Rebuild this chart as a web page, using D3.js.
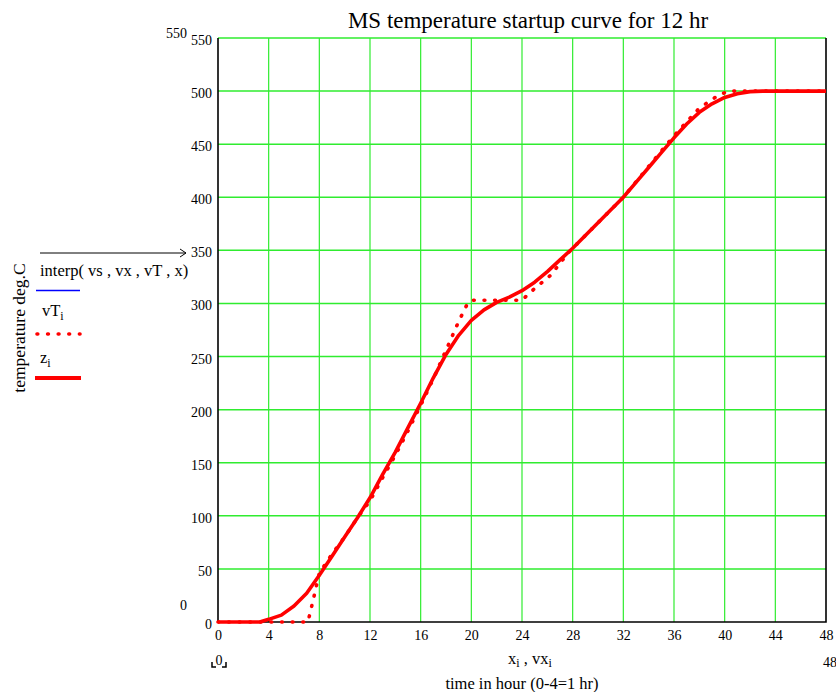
<!DOCTYPE html>
<html>
<head>
<meta charset="utf-8">
<script src="https://cdn.jsdelivr.net/npm/d3@7"></script>
<style>
  html, body { margin: 0; padding: 0; background: #fff; }
  svg { display: block; font-family: "Liberation Serif", "Times New Roman", serif; }
</style>
</head>
<body>
<svg id="chart" width="836" height="692"></svg>
<script>
// Time axis (x, vx) and temperature series
const xTicks = [0, 4, 8, 12, 16, 20, 24, 28, 32, 36, 40, 44, 48];
const yTicks = [0, 50, 100, 150, 200, 250, 300, 350, 400, 450, 500, 550];

// z_i : smoothed startup temperature profile
const zX = [0, 1, 2, 3, 3.3, 4, 5, 6, 7, 8, 9, 10, 11, 12, 13, 14, 15, 16, 17, 18, 19, 20,
            21, 22, 23, 24, 25, 26, 27, 28, 29, 30, 31, 32, 33, 34, 35, 36, 37, 38, 39, 40,
            41, 42, 43, 44, 45, 46, 47, 48];
const zT = [0, 0, 0, 0, 0, 2.5, 6.5, 15, 27, 44, 62, 80, 98, 117, 139, 160, 183, 206, 230, 252, 270, 284,
            294, 301, 306, 312, 320, 330, 341, 352, 364, 376, 388, 400, 414, 428, 442, 456, 469, 480, 488, 494,
            497.5, 499.5, 500, 500, 500, 500, 500, 500];

// vT_i : target temperature set points
const vX = [0, 7.1, 7.5, 8, 9, 10, 11, 12, 13, 14, 15, 16, 17, 18, 19, 19.7, 20, 24, 24.6, 25.4, 26.3,
            27.6, 28, 30, 32, 34, 36, 37, 38, 39.5, 40.3, 48];
const vT = [0, 0, 20, 46, 64, 80, 98, 114, 136, 157, 180, 204, 229, 256, 283, 300, 303, 303, 310, 318, 327,
            347, 352, 376, 400, 429, 458, 471, 484, 496, 500, 500];

const svg = d3.select("#chart");
const x = d3.scaleLinear().domain([0, 48]).range([218, 826]);
const y = d3.scaleLinear().domain([0, 550]).range([622, 38]);

const GRID = "#2fec2f";
const DOTS = "0.8,9.8";

// grid
svg.append("g").selectAll("line").data(xTicks.filter(d => d > 0 && d < 48)).join("line")
  .attr("x1", d => x(d)).attr("x2", d => x(d)).attr("y1", y(0)).attr("y2", y(550))
  .attr("stroke", GRID).attr("stroke-width", 1.2);
svg.append("g").selectAll("line").data(yTicks.filter(d => d > 0)).join("line")
  .attr("x1", x(0)).attr("x2", x(48)).attr("y1", d => y(d)).attr("y2", d => y(d))
  .attr("stroke", GRID).attr("stroke-width", 1.5);

// frame: left, bottom, right in black
svg.append("path")
  .attr("d", `M${x(0)},${y(550)}V${y(0)}H${x(48)}V${y(550)}`)
  .attr("fill", "none").attr("stroke", "#000").attr("stroke-width", 1.6);

// tick labels
const xAxis = svg.append("g").attr("transform", `translate(0,${y(0) + 4})`)
  .call(d3.axisBottom(x).tickValues(xTicks).tickSize(0).tickPadding(4).tickFormat(d3.format("d")));
xAxis.select(".domain").remove();
xAxis.selectAll("text").attr("font-family", "Liberation Serif").attr("font-size", 14).attr("fill", "#000");

const yAxis = svg.append("g").attr("transform", `translate(${x(0) - 4},2)`)
  .call(d3.axisLeft(y).tickValues(yTicks).tickSize(0).tickPadding(2).tickFormat(d3.format("d")));
yAxis.select(".domain").remove();
yAxis.selectAll("text").attr("font-family", "Liberation Serif").attr("font-size", 14).attr("fill", "#000");

// axis limit labels
const lim = svg.append("g").attr("font-size", 14).attr("fill", "#000");
lim.append("text").attr("x", 187).attr("y", 38).attr("text-anchor", "end").text("550");
lim.append("text").attr("x", 187).attr("y", 610).attr("text-anchor", "end").text("0");
lim.append("text").attr("x", 219).attr("y", 665).attr("text-anchor", "middle").text("0");
lim.append("path").attr("d", "M212,662V667H216M226,662V667H222")
  .attr("fill", "none").attr("stroke", "#000").attr("stroke-width", 1.5);
lim.append("text").attr("x", 823).attr("y", 667).attr("text-anchor", "start").text("48");

// series
const line = d3.line().x(d => x(d[0])).y(d => y(d[1]));
svg.append("path").datum(zX.map((d, i) => [d, zT[i]]))
  .attr("d", line).attr("fill", "none").attr("stroke", "#ff0000")
  .attr("stroke-width", 3.6).attr("stroke-linejoin", "round");
svg.append("path").datum(vX.map((d, i) => [d, vT[i]]))
  .attr("d", line).attr("fill", "none").attr("stroke", "#ff0000")
  .attr("stroke-width", 3.6).attr("stroke-dasharray", DOTS).attr("stroke-linecap", "round");

// title and axis titles
svg.append("text").attr("x", 528).attr("y", 28).attr("text-anchor", "middle")
  .attr("font-size", 23).text("MS temperature startup curve for 12 hr");

const xl = svg.append("text").attr("x", 530).attr("y", 664).attr("text-anchor", "middle").attr("font-size", 16.5);
xl.append("tspan").text("x");
xl.append("tspan").attr("font-size", 12).attr("dy", 3).text("i");
xl.append("tspan").attr("dy", -3).text(" , vx");
xl.append("tspan").attr("font-size", 12).attr("dy", 3).text("i");
svg.append("text").attr("x", 522).attr("y", 689).attr("text-anchor", "middle").attr("font-size", 16.5)
  .text("time in hour (0-4=1 hr)");

svg.append("text").attr("transform", "translate(25,328) rotate(-90)").attr("text-anchor", "middle")
  .attr("font-size", 17.5).text("temperature deg.C");

// legend
const lg = svg.append("g").attr("font-size", 16.5).attr("fill", "#000");
lg.append("path").attr("d", "M40,253H186M180,249L186,253L180,257")
  .attr("fill", "none").attr("stroke", "#000").attr("stroke-width", 1);
lg.append("text").attr("x", 40).attr("y", 276).text("interp( vs , vx , vT , x)");
lg.append("line").attr("x1", 36).attr("x2", 80).attr("y1", 290.5).attr("y2", 290.5)
  .attr("stroke", "#0000ff").attr("stroke-width", 1.6);
const t1 = lg.append("text").attr("x", 42).attr("y", 316);
t1.append("tspan").text("vT");
t1.append("tspan").attr("font-size", 12).attr("dy", 4).text("i");
lg.append("line").attr("x1", 37).attr("x2", 80).attr("y1", 334).attr("y2", 334)
  .attr("stroke", "#ff0000").attr("stroke-width", 3.6).attr("stroke-dasharray", DOTS).attr("stroke-linecap", "round");
const t2 = lg.append("text").attr("x", 40).attr("y", 363);
t2.append("tspan").text("z");
t2.append("tspan").attr("font-size", 12).attr("dy", 4).text("i");
lg.append("line").attr("x1", 35).attr("x2", 81).attr("y1", 378).attr("y2", 378)
  .attr("stroke", "#ff0000").attr("stroke-width", 4);
</script>
</body>
</html>
